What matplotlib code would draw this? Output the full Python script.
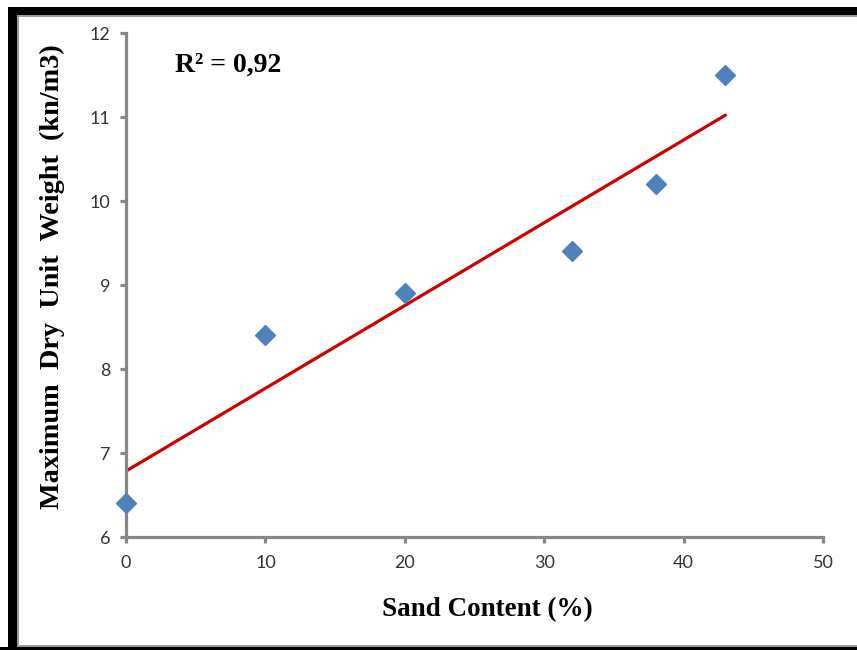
import numpy as np
import matplotlib
matplotlib.use("Agg")
import matplotlib.pyplot as plt
from matplotlib.patches import Rectangle

# data
sand_content = [0, 10, 20, 32, 38, 43]
max_dry_weight = [6.4, 8.4, 8.9, 9.4, 10.2, 11.5]
x_ticks = [0, 10, 20, 30, 40, 50]
y_ticks = [6, 7, 8, 9, 10, 11, 12]

W, H = 857, 650
fig = plt.figure(figsize=(W / 100, H / 100), dpi=100)
ax = fig.add_axes([126 / W, 1 - 537 / H, (823 - 126) / W, (537 - 33) / H])

# linear trend line (least squares through the points)
slope, intercept = np.polyfit(sand_content, max_dry_weight, 1)
fit_x = np.array([min(sand_content), max(sand_content)])
ax.plot(fit_x, slope * fit_x + intercept, color='#CC0000', linewidth=2.3,
        solid_capstyle='round', zorder=2)
ax.plot(sand_content, max_dry_weight, linestyle='none', marker='D',
        markersize=10, color='#4F81BD', zorder=3, clip_on=False)

ax.set_xlim(0, 50)
ax.set_ylim(6, 12)
ax.set_xticks(x_ticks)
ax.set_yticks(y_ticks)

grey = '#878787'
for side in ['top', 'right']:
    ax.spines[side].set_visible(False)
for side in ['left', 'bottom']:
    ax.spines[side].set_color(grey)
    ax.spines[side].set_linewidth(2.3)
ax.tick_params(direction='out', length=4, width=2.3, color=grey,
               labelsize=13, labelcolor='#333333')
ax.tick_params(axis='x', pad=9)
ax.tick_params(axis='y', pad=7)
for lbl in ax.get_xticklabels() + ax.get_yticklabels():
    lbl.set_fontfamily('Lato')

serif = 'Liberation Serif'
fig.text(487 / W, 1 - 610 / H, 'Sand Content (%)', ha='center', va='center',
         fontsize=19.5, fontweight='bold', family=serif)
fig.text(52 / W, 1 - 277 / H, 'Maximum  Dry  Unit  Weight  (kn/m3)',
         ha='center', va='center', rotation=90,
         fontsize=20.3, fontweight='bold', family=serif)
fig.text(175 / W, 1 - 72 / H, 'R² = 0,92', ha='left', va='baseline',
         fontsize=20, fontweight='bold', family=serif)

# black frame around the picture (left, top, bottom)
frame = [
    (8, 0, 9, H - 7, 'black'),
    (8, H - 15, W - 8, 8, 'black'),
    (0, 0, W, 3, 'black'),
    (17, 3, 2, H - 18, '#9a9a9a'),
    (17, H - 17, W - 17, 2, '#9a9a9a'),
    (17, 3, W - 17, 2, '#9a9a9a'),
]
for x0, y0, w, h, c in frame:
    fig.patches.append(Rectangle((x0 / W, y0 / H), w / W, h / H,
                                 transform=fig.transFigure, color=c,
                                 linewidth=0, zorder=5))

fig.savefig('out.png', dpi=100)
